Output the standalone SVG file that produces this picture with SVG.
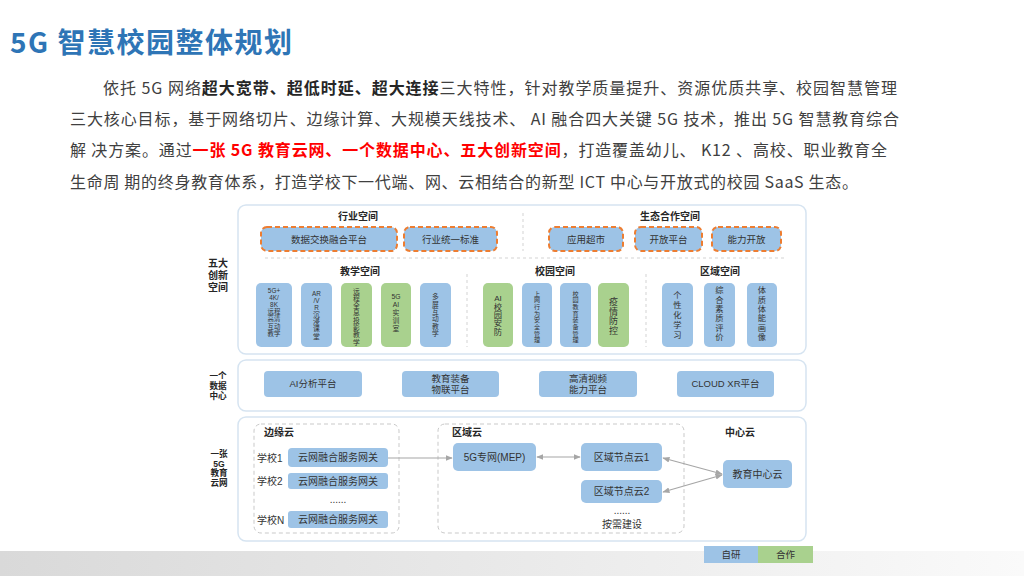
<svg xmlns="http://www.w3.org/2000/svg" width="1024" height="576" viewBox="0 0 1024 576">
<style>
text{font-family:"Liberation Sans","Noto Sans CJK SC",sans-serif;fill:#333}
.title{font-family:"Noto Sans CJK SC","Noto Sans",sans-serif;font-size:28px;font-weight:bold;fill:#2e75b6}
.para{font-family:"Noto Sans CJK SC","Noto Sans",sans-serif;font-size:16px;fill:#404040}
.b{font-weight:bold;fill:#262626}
.r{font-weight:bold;fill:#ff0000}
.cont{fill:#fff;stroke:#d6e4f1;stroke-width:1.5}
.blue{fill:#9dc3e6}
.green{fill:#a9d18e}
.dash{fill:#9dc3e6;stroke:#ed7d31;stroke-width:2;stroke-dasharray:5 3}
.sep{stroke:#d3d3d3;stroke-width:1;stroke-dasharray:3 3;fill:none}
.zone{fill:none;stroke:#c9c9c9;stroke-width:1;stroke-dasharray:4 3}
.t{font-size:9.5px;text-anchor:middle}
.ts{font-size:10px;text-anchor:middle}
.v{font-size:6.4px;text-anchor:middle}
.vt{font-family:"Noto Sans CJK SC",sans-serif;writing-mode:vertical-rl;text-orientation:upright;text-anchor:middle}
.lbl{font-size:10px;font-weight:bold;text-anchor:middle;fill:#262626}
.side{font-size:10px;font-weight:bold;text-anchor:middle;fill:#262626}
.side2{font-size:8.6px;font-weight:bold;text-anchor:middle;fill:#262626}
.conn{stroke:#a6a6a6;stroke-width:1.2;fill:none}
</style>
<defs>
<linearGradient id="band" x1="0" y1="0" x2="1" y2="0">
<stop offset="0" stop-color="#d9d9d9"/>
<stop offset="1" stop-color="#fafafa"/>
</linearGradient>
<marker id="ah" viewBox="0 0 10 10" refX="9" refY="5" markerWidth="6" markerHeight="6" orient="auto-start-reverse">
<path d="M0,1 L10,5 L0,9 z" fill="#a6a6a6"/>
</marker>
</defs>
<rect x="0" y="0" width="1024" height="576" fill="#fff"/>
<rect x="0" y="551" width="1024" height="25" fill="url(#band)"/>

<text class="title" x="10" y="53" textLength="282">5G 智慧校园整体规划</text>

<g id="paragraph">
<text class="para" x="103" y="94" textLength="794">依托 5G 网络<tspan class="b">超大宽带、超低时延、超大连接</tspan>三大特性，针对教学质量提升、资源优质共享、校园智慧管理</text>
<text class="para" x="70" y="125" textLength="829">三大核心目标，基于网络切片、边缘计算、大规模天线技术、 AI 融合四大关键 5G 技术，推出 5G 智慧教育综合</text>
<text class="para" x="70" y="156" textLength="817">解 决方案。通过<tspan class="r">一张 5G 教育云网、一个数据中心、五大创新空间</tspan>，打造覆盖幼儿、 K12 、高校、职业教育全</text>
<text class="para" x="70" y="188" textLength="788">生命周 期的终身教育体系，打造学校下一代端、网、云相结合的新型 ICT 中心与开放式的校园 SaaS 生态。</text>
</g>

<g id="space-container">
<rect class="cont" x="238" y="205" width="568" height="149" rx="8"/>
<line class="sep" x1="523" y1="213" x2="523" y2="251"/>
<line class="sep" x1="265" y1="258" x2="785" y2="258"/>
<line class="sep" x1="467" y1="274" x2="467" y2="347"/>
<line class="sep" x1="646" y1="274" x2="646" y2="347"/>
<text class="lbl" x="358" y="220">行业空间</text>
<text class="lbl" x="670" y="220">生态合作空间</text>
<text class="lbl" x="360" y="275">教学空间</text>
<text class="lbl" x="555" y="275">校园空间</text>
<text class="lbl" x="720" y="275">区域空间</text>
</g>
<g id="label-five"><text class="side" x="218" y="267">五大</text><text class="side" x="218" y="279">创新</text><text class="side" x="218" y="291">空间</text></g>
<g id="label-one"><text class="side2" x="218" y="379">一个</text><text class="side2" x="218" y="389">数据</text><text class="side2" x="218" y="399">中心</text></g>
<g id="label-net"><text class="side2" x="219" y="457">一张</text><text class="side2" x="219" y="466.6">5G</text><text class="side2" x="219" y="476.2">教育</text><text class="side2" x="219" y="485.8">云网</text></g>

<g id="n-shujujiaohuan"><rect class="dash" x="261" y="227" width="136" height="24" rx="6"/><text class="t" x="329" y="242.5">数据交换融合平台</text></g>
<g id="n-hangyebiaozhun"><rect class="dash" x="404" y="227" width="93" height="24" rx="6"/><text class="t" x="450.5" y="242.5">行业统一标准</text></g>
<g id="n-yingyongchaoshi"><rect class="dash" x="549" y="227" width="74" height="24" rx="6"/><text class="t" x="586" y="242.5">应用超市</text></g>
<g id="n-kaifangpingtai"><rect class="dash" x="635" y="227" width="67" height="24" rx="6"/><text class="t" x="668.5" y="242.5">开放平台</text></g>
<g id="n-nenglikaifang"><rect class="dash" x="712" y="227" width="69" height="24" rx="6"/><text class="t" x="746.5" y="242.5">能力开放</text></g>

<g id="n-v1"><rect class="blue" x="256" y="283" width="36" height="64" rx="5"/>
<text class="v"><tspan x="274" y="292.5">5G+</tspan><tspan x="274" y="299.7">4K/</tspan><tspan x="274" y="306.9">8K</tspan><tspan x="274" y="314.1">远程</tspan><tspan x="274" y="321.3">高清</tspan><tspan x="274" y="328.5">互动</tspan><tspan x="274" y="335.7">教学</tspan></text></g>
<g id="n-v2"><rect class="blue" x="301" y="283" width="31" height="64" rx="5"/>
<text class="v"><tspan x="316.5" y="295.5">AR</tspan><tspan x="316.5" y="302.7">/V</tspan><tspan x="316.5" y="309.9">R</tspan></text>
<text class="vt" x="316.5" y="325.4" style="font-size:6.8px;letter-spacing:0.4px">沉浸课堂</text></g>
<g id="n-v3"><rect class="green" x="341" y="283" width="31" height="64" rx="5"/>
<text class="vt" x="356.5" y="316.8" style="font-size:6.8px;letter-spacing:0.5px">远程全息投影教学</text></g>
<g id="n-v4"><rect class="green" x="381" y="283" width="30" height="64" rx="5"/>
<text class="v" style="font-size:6.8px"><tspan x="396" y="298.6">5G</tspan><tspan x="396" y="306.6">AI</tspan></text>
<text class="vt" x="396" y="321" style="font-size:6.8px;letter-spacing:1.2px">实训室</text></g>
<g id="n-v5"><rect class="blue" x="420" y="283" width="31" height="64" rx="5"/>
<text class="vt" x="435.5" y="315.5" style="font-size:6.8px;letter-spacing:0.6px">多屏互动教学</text></g>
<g id="n-v6"><rect class="green" x="483" y="283" width="30" height="64" rx="5"/>
<text style="font-size:8px;text-anchor:middle" x="498" y="301">AI</text>
<text class="vt" x="498" y="319" style="font-size:8.3px">校园安防</text></g>
<g id="n-v7"><rect class="blue" x="522" y="283" width="30" height="64" rx="5"/>
<text class="vt" x="537" y="317" style="font-size:6.1px;letter-spacing:0.6px">上网行为安全管理</text></g>
<g id="n-v8"><rect class="blue" x="560" y="283" width="31" height="64" rx="5"/>
<text class="vt" x="575.5" y="317" style="font-size:6.1px;letter-spacing:0.6px">校园教育装备管理</text></g>
<g id="n-v9"><rect class="green" x="598" y="283" width="31" height="64" rx="5"/>
<text class="vt" x="613.5" y="316.5" style="font-size:9px;letter-spacing:0.5px">疫情防控</text></g>
<g id="n-v10"><rect class="blue" x="662" y="283" width="31" height="64" rx="5"/>
<text class="vt" x="677.5" y="316" style="font-size:8.3px;letter-spacing:1.7px">个性化学习</text></g>
<g id="n-v11"><rect class="blue" x="704" y="283" width="31" height="64" rx="5"/>
<text class="vt" x="719.5" y="314" style="font-size:8.3px;letter-spacing:1.1px">综合素质评价</text></g>
<g id="n-v12"><rect class="blue" x="747" y="283" width="30" height="64" rx="5"/>
<text class="vt" x="762" y="314" style="font-size:8.3px;letter-spacing:1.1px">体质体能画像</text></g>

<g id="data-container"><rect class="cont" x="238" y="360" width="568" height="51" rx="8"/></g>
<g id="n-ai"><rect class="blue" x="264" y="371" width="98" height="26" rx="4"/><text class="t" x="313" y="387.3">AI分析平台</text></g>
<g id="n-zhuangbei"><rect class="blue" x="402" y="371" width="97" height="26" rx="4"/><text class="t"><tspan x="450.5" y="382">教育装备</tspan><tspan x="450.5" y="393">物联平台</tspan></text></g>
<g id="n-shipin"><rect class="blue" x="539" y="371" width="98" height="26" rx="4"/><text class="t"><tspan x="588" y="382">高清视频</tspan><tspan x="588" y="393">能力平台</tspan></text></g>
<g id="n-xr"><rect class="blue" x="677" y="371" width="97" height="26" rx="4"/><text class="t" x="725.5" y="387.3">CLOUD XR平台</text></g>

<g id="net-container">
<rect class="cont" x="238" y="417" width="568" height="124" rx="8"/>
<rect class="zone" x="254" y="424" width="145" height="109" rx="7"/>
<rect class="zone" x="438" y="424" width="246" height="109" rx="7"/>
<text class="lbl" x="264" y="435.5" style="text-anchor:start">边缘云</text>
<text class="lbl" x="452" y="435.5" style="text-anchor:start">区域云</text>
<text class="lbl" x="740" y="435.5">中心云</text>
<text class="ts" x="338" y="503">......</text>
<text class="ts" x="622" y="514">......</text>
<text class="ts" x="622" y="527.5">按需建设</text>
</g>
<g id="n-gw1"><text class="ts" x="257" y="461.5" style="text-anchor:start">学校1</text><rect class="blue" x="288" y="448" width="100" height="19" rx="4"/><text class="ts" x="338" y="461">云网融合服务网关</text></g>
<g id="n-gw2"><text class="ts" x="257" y="484.5" style="text-anchor:start">学校2</text><rect class="blue" x="288" y="473" width="100" height="16" rx="3"/><text class="ts" x="338" y="484.5">云网融合服务网关</text></g>
<g id="n-gwN"><text class="ts" x="257" y="523.5" style="text-anchor:start">学校N</text><rect class="blue" x="288" y="511" width="100" height="17" rx="3"/><text class="ts" x="338" y="523">云网融合服务网关</text></g>
<g id="n-mep"><rect class="blue" x="453" y="443" width="83" height="28" rx="5"/><text class="ts" x="494.5" y="460.5">5G专网(MEP)</text></g>
<g id="n-node1"><rect class="blue" x="581" y="443" width="81" height="28" rx="5"/><text class="ts" x="621.5" y="460.5">区域节点云1</text></g>
<g id="n-node2"><rect class="blue" x="581" y="480" width="81" height="23" rx="5"/><text class="ts" x="621.5" y="495">区域节点云2</text></g>
<g id="n-center"><rect class="blue" x="723" y="460" width="69" height="28" rx="5"/><text class="ts" x="757.5" y="477.5">教育中心云</text></g>

<g id="connectors">
<line class="conn" x1="388" y1="458" x2="452" y2="458" marker-end="url(#ah)"/>
<line class="conn" x1="537" y1="457" x2="580" y2="457" marker-start="url(#ah)" marker-end="url(#ah)"/>
<line class="conn" x1="663" y1="458" x2="722" y2="474" marker-start="url(#ah)" marker-end="url(#ah)"/>
<line class="conn" x1="663" y1="492" x2="722" y2="475" marker-start="url(#ah)" marker-end="url(#ah)"/>
</g>

<g id="legend">
<rect class="blue" x="704" y="546" width="54" height="17"/>
<rect class="green" x="758" y="546" width="55" height="17"/>
<text class="t" x="731" y="558">自研</text>
<text class="t" x="785.5" y="558">合作</text>
</g>
</svg>
